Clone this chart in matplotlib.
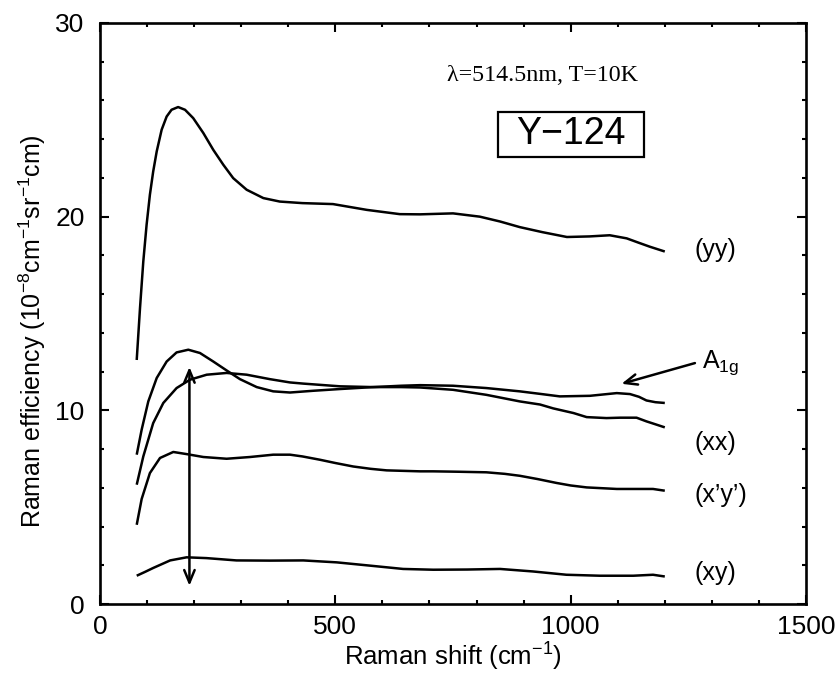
import matplotlib
matplotlib.use("Agg")
import matplotlib.pyplot as plt
from matplotlib.patches import Rectangle

# ---- data ----
yy_x = [78, 85, 92, 99, 106, 113, 120.5, 131, 141.6, 152, 166, 180.6, 198, 219.5, 240.7, 262, 283, 311.6, 347, 382, 430, 495, 567, 637, 680, 750, 807, 850, 892, 940, 992, 1040, 1083, 1119, 1145, 1168, 1200]
yy_y = [12.6, 15.28, 17.69, 19.58, 21.13, 22.33, 23.37, 24.49, 25.17, 25.52, 25.66, 25.52, 25.09, 24.32, 23.45, 22.68, 21.99, 21.39, 20.96, 20.78, 20.7, 20.65, 20.35, 20.13, 20.12, 20.17, 20.0, 19.75, 19.46, 19.2, 18.95, 18.98, 19.04, 18.88, 18.65, 18.45, 18.2]

a1g_x = [78, 88.5, 102.6, 120.5, 141.6, 162.7, 187.6, 212.4, 240.7, 269, 297.4, 333, 368, 403.7, 453, 510, 580, 640, 680, 750, 821, 892, 935, 977, 1041, 1098, 1126, 1145, 1161, 1180, 1200]
a1g_y = [7.71, 9.0, 10.46, 11.67, 12.52, 12.99, 13.13, 12.96, 12.52, 12.06, 11.61, 11.2, 10.98, 10.92, 11.01, 11.1, 11.2, 11.27, 11.3, 11.27, 11.15, 10.98, 10.85, 10.72, 10.75, 10.89, 10.84, 10.7, 10.51, 10.42, 10.38]

xx_x = [78, 92, 113, 134.5, 162.7, 191, 226.7, 269, 311.6, 361, 403.7, 432, 510, 580, 640, 680, 750, 821, 892, 935, 963, 1006, 1034, 1076, 1105, 1140, 1161, 1180, 1200]
xx_y = [6.16, 7.62, 9.34, 10.38, 11.15, 11.58, 11.84, 11.93, 11.84, 11.61, 11.44, 11.38, 11.24, 11.2, 11.2, 11.18, 11.06, 10.8, 10.46, 10.3, 10.1, 9.86, 9.65, 9.6, 9.62, 9.62, 9.43, 9.28, 9.12]

xpyp_x = [78, 88.5, 106, 127.5, 155.7, 184, 219.5, 269, 318.7, 368, 403.7, 430, 467, 500, 538, 575, 609, 680, 708, 760, 821, 860, 892, 930, 970, 1000, 1034, 1098, 1175, 1200]
xpyp_y = [4.09, 5.42, 6.76, 7.54, 7.85, 7.74, 7.59, 7.5, 7.59, 7.71, 7.71, 7.62, 7.45, 7.28, 7.1, 6.98, 6.9, 6.85, 6.85, 6.83, 6.8, 6.72, 6.62, 6.45, 6.25, 6.12, 6.02, 5.94, 5.94, 5.85]

xy_x = [78, 95, 113, 149, 184, 226, 290, 361, 432, 503, 574, 644, 708, 780, 850, 920, 991, 1062, 1133, 1175, 1200]
xy_y = [1.46, 1.65, 1.86, 2.25, 2.41, 2.37, 2.25, 2.24, 2.25, 2.15, 1.98, 1.81, 1.77, 1.78, 1.81, 1.68, 1.51, 1.46, 1.46, 1.51, 1.42]

curve_labels = ["(yy)", "(xx)", "(x\u2019y\u2019)", "(xy)"]
label_y = [18.29, 8.31, 5.64, 1.6]

x_ticks = [0, 500, 1000, 1500]
y_ticks = [0, 10, 20, 30]

# ---- figure ----
plt.rcParams['font.family'] = ['Liberation Sans', 'DejaVu Sans']
plt.rcParams['mathtext.fontset'] = 'custom'
plt.rcParams['mathtext.rm'] = 'Liberation Sans'
plt.rcParams['mathtext.it'] = 'Liberation Sans:italic'
plt.rcParams['mathtext.bf'] = 'Liberation Sans:bold'

fig = plt.figure(figsize=(8.37, 6.75), dpi=100)
ax = fig.add_axes([100/837, 1-604/675, 706/837, 581/675])

lw = 1.8
for xs, ys in [(yy_x, yy_y), (a1g_x, a1g_y), (xx_x, xx_y), (xpyp_x, xpyp_y), (xy_x, xy_y)]:
    ax.plot(xs, ys, color='black', lw=lw, solid_capstyle='butt', solid_joinstyle='round')

ax.set_xlim(0, 1500)
ax.set_ylim(0, 30)
ax.set_xticks(x_ticks)
ax.set_yticks(y_ticks)
ax.set_xticks(range(0, 1501, 100), minor=True)
ax.set_yticks(range(0, 31, 2), minor=True)
ax.tick_params(which='both', direction='in', top=True, right=True, width=1.5, labelsize=19)
ax.tick_params(which='major', length=6.5)
ax.tick_params(which='minor', length=3.2)
ax.tick_params(axis='x', pad=8)
ax.tick_params(axis='y', pad=11)
for s in ax.spines.values():
    s.set_linewidth(1.9)

ax.set_xlabel("Raman shift (cm$^{\\mathrm{-1}}$)", fontsize=18.5, labelpad=1)
ax.set_ylabel("Raman efficiency (10$^{\\mathrm{-8}}$cm$^{\\mathrm{-1}}$sr$^{\\mathrm{-1}}$cm)", fontsize=18)
ax.yaxis.label.set_va('center')
ax.yaxis.set_label_coords(-0.0963, 0.47)

for lab, yv in zip(curve_labels, label_y):
    ax.text(1264, yv, lab, fontsize=18, ha='left', va='center')

ax.text(940, 27.27, "\u03bb=514.5nm, T=10K", fontsize=17.3, ha='center', va='center',
        family=['Liberation Serif', 'DejaVu Serif'])
ax.add_patch(Rectangle((846, 23.08), 310, 2.35, fill=False, ec='black', lw=1.6, zorder=3))
ax.text(1001, 24.25, "Y\u2212124", fontsize=27, ha='center', va='center')

# double-headed arrow
ax.annotate("", xy=(190, 0.94), xytext=(190, 12.24),
            arrowprops=dict(arrowstyle='<->,head_length=0.6,head_width=0.25', lw=1.8, color='black',
                            shrinkA=0, shrinkB=0, mutation_scale=15))
# A1g arrow and label
ax.annotate("", xy=(1108, 11.37), xytext=(1264, 12.44),
            arrowprops=dict(arrowstyle='->,head_length=0.6,head_width=0.25', lw=1.8, color='black',
                            shrinkA=0, shrinkB=0, mutation_scale=15))
ax.text(1280, 12.44, "A$_{\\mathrm{1g}}$", fontsize=18, ha='left', va='center')

fig.savefig("out.png", dpi=100)
